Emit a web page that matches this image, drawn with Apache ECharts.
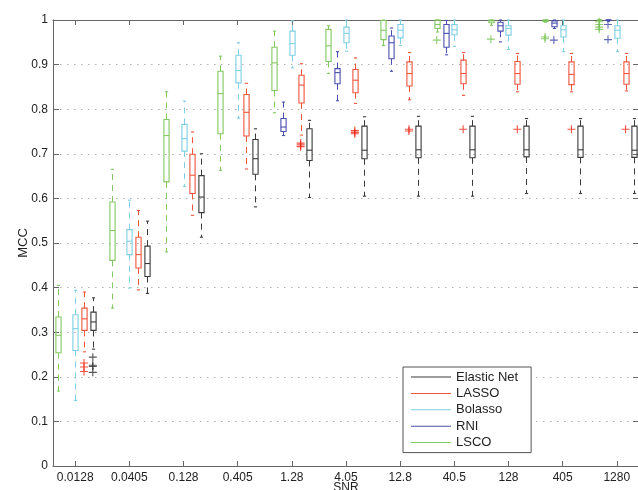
<!DOCTYPE html>
<html>
<head>
<meta charset="utf-8">
<script src="https://cdn.jsdelivr.net/npm/echarts@6/dist/echarts.min.js"></script>
<style>
  html, body { margin: 0; padding: 0; background: #fff; }
  #chart { width: 638px; height: 490px; }
</style>
</head>
<body>
<div id="chart"></div>
<script>
// SNR levels on the x axis
const snrLabels = ['0.0128', '0.0405', '0.128', '0.405', '1.28', '4.05', '12.8', '40.5', '128', '405', '1280']

// box stats per SNR: [lower whisker, q1, median, q3, upper whisker]
const elasticNet = [
  [0.262, 0.304, 0.323, 0.345, 0.377],
  [0.387, 0.425, 0.454, 0.493, 0.549],
  [0.513, 0.568, 0.603, 0.651, 0.700],
  [0.581, 0.654, 0.689, 0.732, 0.756],
  [0.602, 0.685, 0.708, 0.756, 0.775],
  [0.605, 0.689, 0.708, 0.762, 0.783],
  [0.605, 0.691, 0.709, 0.762, 0.784],
  [0.605, 0.691, 0.709, 0.762, 0.784],
  [0.611, 0.693, 0.709, 0.762, 0.779],
  [0.611, 0.692, 0.709, 0.762, 0.779],
  [0.611, 0.692, 0.708, 0.762, 0.779]
]
const lasso = [
  [0.256, 0.304, 0.330, 0.354, 0.390],
  [0.395, 0.444, 0.474, 0.513, 0.573],
  [0.562, 0.611, 0.652, 0.699, 0.749],
  [0.666, 0.740, 0.793, 0.833, 0.858],
  [0.742, 0.814, 0.854, 0.876, 0.902],
  [0.813, 0.837, 0.865, 0.889, 0.915],
  [0.821, 0.852, 0.880, 0.906, 0.927],
  [0.831, 0.857, 0.880, 0.910, 0.927],
  [0.839, 0.856, 0.880, 0.907, 0.925],
  [0.839, 0.855, 0.878, 0.906, 0.925],
  [0.841, 0.856, 0.880, 0.906, 0.925]
]
const bolasso = [
  [0.147, 0.259, 0.308, 0.339, 0.394],
  [0.399, 0.474, 0.504, 0.530, 0.596],
  [0.627, 0.706, 0.734, 0.766, 0.818],
  [0.780, 0.859, 0.887, 0.921, 0.949],
  [0.893, 0.921, 0.947, 0.975, 0.998],
  [0.930, 0.949, 0.970, 0.984, 1.0],
  [0.943, 0.960, 0.977, 0.990, 1.0],
  [0.941, 0.967, 0.978, 0.990, 1.0],
  [0.934, 0.966, 0.981, 0.987, 1.0],
  [0.929, 0.962, 0.978, 0.987, 1.0],
  [0.929, 0.959, 0.977, 0.987, 1.0]
]
const rni = [
  null, null, null, null,
  [0.741, 0.750, 0.760, 0.779, 0.816],
  [0.819, 0.857, 0.882, 0.891, 0.929],
  [0.885, 0.913, 0.949, 0.964, 0.982],
  [0.922, 0.939, 0.970, 0.990, 0.999],
  [0.951, 0.975, 0.987, 0.995, 1.0],
  [0.981, 0.985, 0.993, 0.998, 1.0],
  [0.997, 0.999, 1.0, 1.0, 1.0]
]
const lsco = [
  [0.168, 0.254, 0.293, 0.334, 0.405],
  [0.354, 0.461, 0.528, 0.592, 0.665],
  [0.480, 0.637, 0.741, 0.777, 0.839],
  [0.663, 0.745, 0.835, 0.885, 0.919],
  [0.792, 0.842, 0.904, 0.939, 0.975],
  [0.880, 0.907, 0.942, 0.979, 0.987],
  [0.943, 0.956, 0.977, 0.999, 1.0],
  [0.973, 0.981, 0.990, 1.0, 1.0],
  [0.988, 0.994, 0.998, 1.0, 1.0],
  [0.995, 0.997, 1.0, 1.0, 1.0],
  [1.0, 1.0, 1.0, 1.0, 1.0]
]

// outliers: [SNR index, MCC]
const elasticNetOut = [[0, 0.244], [0, 0.226], [0, 0.223], [0, 0.21]]
const lassoOut = [
  [0, 0.231], [0, 0.222], [0, 0.212],
  [4, 0.724], [4, 0.72], [4, 0.716],
  [5, 0.752], [5, 0.748], [5, 0.745],
  [6, 0.755], [6, 0.751],
  [7, 0.755], [8, 0.755], [9, 0.755], [10, 0.755]
]
const bolassoOut = []
const rniOut = [[9, 0.955], [10, 0.99], [10, 0.956]]
const lscoOut = [
  [7, 0.955], [8, 0.957], [9, 0.962], [9, 0.958],
  [10, 0.996], [10, 0.99], [10, 0.984], [10, 0.979]
]

// drawing order left -> right inside a group
const methods = [
  { name: 'LSCO', stats: lsco, out: lscoOut, color: '#84c862', outColor: '#74bf4e', offset: -0.325 },
  { name: 'RNI', stats: rni, out: rniOut, color: '#4b4fae', outColor: '#3f43a8', offset: -0.1625 },
  { name: 'Bolasso', stats: bolasso, out: bolassoOut, color: '#7fcfe4', outColor: '#6cc6de', offset: 0 },
  { name: 'LASSO', stats: lasso, out: lassoOut, color: '#f0553c', outColor: '#ec2818', offset: 0.1625 },
  { name: 'Elastic Net', stats: elasticNet, out: elasticNetOut, color: '#3a3a3a', outColor: '#2a2a2a', offset: 0.325 }
]
const legendOrder = ['Elastic Net', 'LASSO', 'Bolasso', 'RNI', 'LSCO']

const renderBox = (params, api) => {
  const x = api.value(0)
  const lo = api.coord([x, api.value(1)])
  const q1 = api.coord([x, api.value(2)])
  const md = api.coord([x, api.value(3)])
  const q3 = api.coord([x, api.value(4)])
  const hi = api.coord([x, api.value(5)])
  const cx = Math.round(lo[0]) + 0.5
  const hw = 2.6
  const cw = 1.6
  const color = api.visual('color')
  const solid = { stroke: color, lineWidth: 1.1, fill: 'none' }
  const dashed = { stroke: color, lineWidth: 1, lineDash: [6, 5], fill: 'none' }
  return {
    type: 'group',
    children: [
      { type: 'line', shape: { x1: cx, y1: q3[1], x2: cx, y2: hi[1] }, style: dashed },
      { type: 'line', shape: { x1: cx, y1: q1[1], x2: cx, y2: lo[1] }, style: dashed },
      { type: 'line', shape: { x1: cx - cw, y1: hi[1], x2: cx + cw, y2: hi[1] }, style: solid },
      { type: 'line', shape: { x1: cx - cw, y1: lo[1], x2: cx + cw, y2: lo[1] }, style: solid },
      { type: 'rect', shape: { x: cx - hw, y: q3[1], width: hw * 2, height: q1[1] - q3[1] }, style: solid },
      { type: 'line', shape: { x1: cx - hw, y1: md[1], x2: cx + hw, y2: md[1] }, style: solid }
    ]
  }
}

// '+' marker for outliers
const crossPath = 'path://M4.3,0H5.7V10H4.3Z M0,4.3H10V5.7H0Z'

const series = []
methods.forEach((m) => {
  const boxData = []
  m.stats.forEach((s, i) => {
    if (s) boxData.push([i + m.offset, ...s])
  })
  series.push({
    name: m.name,
    type: 'custom',
    renderItem: renderBox,
    itemStyle: { color: m.color },
    encode: { x: 0, y: [1, 2, 3, 4, 5] },
    data: boxData,
    silent: true,
    z: 3
  })
  series.push({
    name: m.name,
    type: 'scatter',
    symbol: crossPath,
    symbolSize: 8,
    itemStyle: { color: m.outColor },
    data: m.out.map(([i, v]) => [i + m.offset, v]),
    silent: true,
    z: 4
  })
})

const axisColor = '#666'
const tickIdx = snrLabels.map((_, i) => i)

const chart = echarts.init(document.getElementById('chart'))
chart.setOption({
  animation: false,
  backgroundColor: '#fff',
  textStyle: { fontFamily: 'Liberation Sans, Arial, sans-serif' },
  grid: { left: 53, right: -1, top: 20, bottom: 24, outerBoundsMode: 'none', containLabel: false },
  legend: {
    orient: 'vertical',
    left: 403,
    top: 367,
    padding: [2, 13, 2, 8],
    itemWidth: 40,
    itemHeight: 1,
    itemGap: 0.4,
    icon: 'rect',
    borderColor: '#555',
    borderWidth: 1,
    borderRadius: 0,
    backgroundColor: '#fff',
    textStyle: { fontSize: 13, lineHeight: 16, color: '#222' },
    data: legendOrder.map((n) => ({
      name: n,
      itemStyle: { color: methods.find((m) => m.name === n).color, borderWidth: 0 }
    }))
  },
  xAxis: [
    {
      type: 'value',
      position: 'bottom',
      min: -0.41,
      max: 10.41,
      name: 'SNR',
      nameLocation: 'middle',
      nameGap: 16,
      nameMoveOverlap: false,
      nameTextStyle: { fontSize: 12, color: '#222', verticalAlign: 'top' },
      axisLine: { onZero: false, lineStyle: { color: axisColor } },
      axisTick: { inside: true, length: 5, customValues: tickIdx, lineStyle: { color: axisColor } },
      axisLabel: {
        customValues: tickIdx,
        margin: 6,
        fontSize: 12,
        color: '#222',
        formatter: (v) => snrLabels[Math.round(v)]
      },
      splitLine: { show: false }
    },
    {
      type: 'value',
      position: 'top',
      min: -0.41,
      max: 10.41,
      axisLine: { onZero: false, lineStyle: { color: axisColor } },
      axisTick: { inside: true, length: 5, customValues: tickIdx, lineStyle: { color: axisColor } },
      axisLabel: { show: false },
      splitLine: { show: false }
    }
  ],
  yAxis: [
    {
      type: 'value',
      position: 'left',
      min: 0,
      max: 1,
      interval: 0.1,
      name: 'MCC',
      nameLocation: 'middle',
      nameGap: 23,
      nameMoveOverlap: false,
      nameTextStyle: { fontSize: 13, color: '#222' },
      axisLine: { show: true, onZero: false, lineStyle: { color: axisColor } },
      axisTick: { show: true, inside: true, length: 6, lineStyle: { color: axisColor } },
      axisLabel: {
        margin: 5,
        fontSize: 12,
        color: '#222',
        formatter: (v) => String(Math.round(v * 10) / 10)
      },
      splitLine: { show: true, lineStyle: { color: '#b0b0b0', type: [1.5, 5.5], width: 1 } }
    },
    {
      type: 'value',
      position: 'right',
      min: 0,
      max: 1,
      interval: 0.1,
      axisLine: { show: true, onZero: false, lineStyle: { color: axisColor } },
      axisTick: { show: true, inside: true, length: 6, lineStyle: { color: axisColor } },
      axisLabel: { show: false },
      splitLine: { show: false }
    }
  ],
  series
})
</script>
</body>
</html>
